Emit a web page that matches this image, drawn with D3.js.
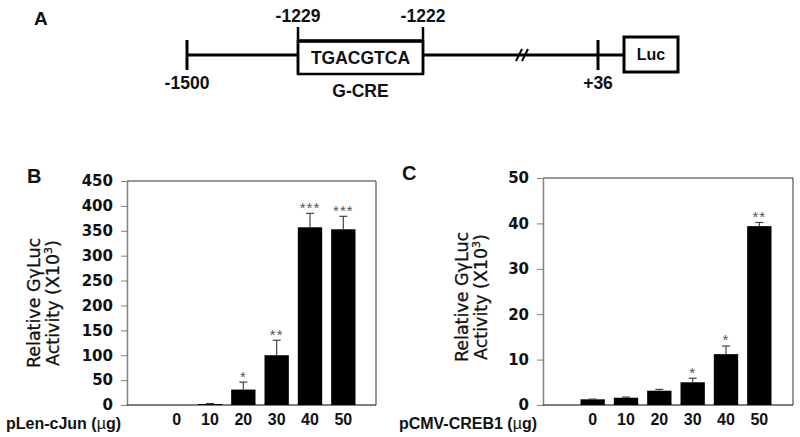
<!DOCTYPE html>
<html>
<head>
<meta charset="utf-8">
<script src="https://cdn.jsdelivr.net/npm/d3@7"></script>
<style>
  body { margin: 0; background: #fff; }
  svg { display: block; }
</style>
</head>
<body>
<div id="fig"></div>
<script>
// dose groups (ug of plasmid)
const doses = ["0", "10", "20", "30", "40", "50"];

// panel B: pLen-cJun
const cjunValues = [0, 2, 31, 100, 357, 353];
const cjunErrors = [0, 1, 15, 30, 28, 26];
const cjunStars = ["", "", "*", "**", "***", "***"];
const cjunTicks = [0, 50, 100, 150, 200, 250, 300, 350, 400, 450];

// panel C: pCMV-CREB1
const crebValues = [1.25, 1.6, 3.15, 5.0, 11.2, 39.4];
const crebErrors = [0.05, 0.15, 0.3, 0.9, 1.8, 0.8];
const crebStars = ["", "", "", "*", "*", "**"];
const crebTicks = [0, 10, 20, 30, 40, 50];

// panel A: promoter landmarks
const landmarks = ["-1500", "-1229", "-1222", "break", "+36", "Luc"];

const W = 800, H = 437;
const svg = d3.select("#fig").append("svg").attr("width", W).attr("height", H);

const boldSans = "'Liberation Sans', Arial, sans-serif";
const wideBold = "'DejaVu Sans', sans-serif";

// ---------- panel A (schematic, not to scale) ----------
const posA = d3.scaleOrdinal().domain(landmarks).range([187, 298, 423, 522, 598, 624]);
const lineY = 55;
const A = svg.append("g");

function labelA(x, y, txt, size) {
  return A.append("text").attr("x", x).attr("y", y).attr("text-anchor", "middle").text(txt)
    .attr("fill", "#111").attr("font-family", boldSans).attr("font-weight", "bold")
    .attr("font-size", size);
}

A.append("text").attr("x", 34).attr("y", 25).text("A").attr("fill", "#111")
  .attr("font-family", boldSans).attr("font-weight", "bold").attr("font-size", 19);

// main line
A.append("line").attr("x1", posA("-1500")).attr("x2", posA("Luc"))
  .attr("y1", lineY).attr("y2", lineY).attr("stroke", "#000").attr("stroke-width", 3);
// end ticks
["-1500", "+36"].forEach(k => {
  A.append("line").attr("x1", posA(k)).attr("x2", posA(k))
    .attr("y1", lineY - 15).attr("y2", lineY + 15).attr("stroke", "#000").attr("stroke-width", 3);
});
// G-CRE box
A.append("rect").attr("x", posA("-1229")).attr("y", 41)
  .attr("width", posA("-1222") - posA("-1229")).attr("height", 33)
  .attr("fill", "#fff").attr("stroke", "#000").attr("stroke-width", 2.5);
A.append("line").attr("x1", posA("-1229")).attr("x2", posA("-1222"))
  .attr("y1", 41).attr("y2", 41).attr("stroke", "#000").attr("stroke-width", 3.5);
["-1229", "-1222"].forEach(k => {
  A.append("line").attr("x1", posA(k)).attr("x2", posA(k))
    .attr("y1", 27).attr("y2", 74).attr("stroke", "#000").attr("stroke-width", 2.5);
  labelA(posA(k), 22, k, 17.5);
});
labelA((posA("-1229") + posA("-1222")) / 2, 64, "TGACGTCA", 17.5);
labelA((posA("-1229") + posA("-1222")) / 2, 97, "G-CRE", 17.5);
labelA(posA("-1500"), 89, "-1500", 17.5);
labelA(posA("+36"), 89, "+36", 17.5);
// break mark //
[-3, 3].forEach(o => {
  const bx = posA("break") + o;
  A.append("line").attr("x1", bx - 3).attr("x2", bx + 3)
    .attr("y1", lineY + 6).attr("y2", lineY - 6).attr("stroke", "#000").attr("stroke-width", 2);
});
// Luc box
A.append("rect").attr("x", posA("Luc")).attr("y", 37).attr("width", 54).attr("height", 35)
  .attr("fill", "#fff").attr("stroke", "#000").attr("stroke-width", 3);
labelA(posA("Luc") + 27, 60, "Luc", 16);

// ---------- bar panels ----------
function panel(cfg) {
  const g = svg.append("g").attr("transform", `translate(${cfg.left},${cfg.top})`);
  const innerW = cfg.width, innerH = cfg.height;

  const x = d3.scaleBand().domain(doses).range([33, 233]).paddingInner(0.27).paddingOuter(0.135);
  const y = d3.scaleLinear().domain([0, cfg.max]).range([innerH, 0]);

  // frame: top + right
  g.append("line").attr("x1", 0).attr("x2", innerW).attr("y1", 0).attr("y2", 0)
    .attr("stroke", "#333").attr("stroke-width", 1);
  g.append("line").attr("x1", innerW).attr("x2", innerW).attr("y1", 0).attr("y2", innerH)
    .attr("stroke", "#333").attr("stroke-width", 1);

  // y axis
  const ax = g.append("g").call(d3.axisLeft(y).tickValues(cfg.ticks).tickSize(6).tickSizeOuter(0).tickPadding(8));
  ax.select(".domain").attr("stroke", "#808080").attr("stroke-width", 1.5);
  ax.selectAll(".tick line").attr("stroke", "#808080");
  ax.selectAll(".tick text").attr("fill", "#111")
    .attr("font-family", wideBold).attr("font-weight", "bold").attr("font-size", 15);

  // bars
  const rows = doses.map((d, i) => ({ dose: d, v: cfg.values[i], e: cfg.errors[i], s: cfg.stars[i] }));
  g.selectAll(".bar").data(rows).join("rect").attr("class", "bar")
    .attr("x", d => x(d.dose)).attr("width", x.bandwidth())
    .attr("y", d => y(d.v)).attr("height", d => innerH - y(d.v))
    .attr("fill", "#000");

  // error bars (upper only)
  const eb = g.selectAll(".err").data(rows.filter(d => d.e > 0)).join("g").attr("class", "err")
    .attr("stroke", "#444").attr("stroke-width", 1.2);
  eb.append("line")
    .attr("x1", d => x(d.dose) + x.bandwidth() / 2).attr("x2", d => x(d.dose) + x.bandwidth() / 2)
    .attr("y1", d => y(d.v)).attr("y2", d => y(d.v + d.e));
  eb.append("line")
    .attr("x1", d => x(d.dose) + x.bandwidth() / 2 - 4).attr("x2", d => x(d.dose) + x.bandwidth() / 2 + 4)
    .attr("y1", d => y(d.v + d.e)).attr("y2", d => y(d.v + d.e));

  // significance stars
  g.selectAll(".sig").data(rows.filter(d => d.s)).join("text").attr("class", "sig")
    .attr("x", d => x(d.dose) + x.bandwidth() / 2).attr("y", d => y(d.v + d.e) - 0.5)
    .attr("text-anchor", "middle").attr("fill", "#555")
    .attr("font-family", boldSans).attr("font-size", 15).attr("letter-spacing", 1)
    .text(d => d.s);

  // baseline
  g.append("line").attr("x1", 0).attr("x2", innerW).attr("y1", innerH).attr("y2", innerH)
    .attr("stroke", "#000").attr("stroke-width", 1);

  // category labels
  g.selectAll(".cat").data(doses).join("text").attr("class", "cat")
    .attr("x", d => x(d) + x.bandwidth() / 2).attr("y", innerH + 20)
    .attr("text-anchor", "middle").attr("fill", "#111")
    .attr("font-family", boldSans).attr("font-weight", "bold").attr("font-size", 16)
    .text(d => d);

  // x label
  const xl = svg.append("text").attr("x", cfg.xLabelEnd).attr("y", cfg.top + innerH + 24)
    .attr("text-anchor", "end").attr("fill", "#111")
    .attr("font-family", boldSans).attr("font-weight", "bold").attr("font-size", 16);
  xl.append("tspan").text(cfg.xLabel + " (");
  xl.append("tspan").attr("font-weight", "normal").text("\u00b5");
  xl.append("tspan").text("g)");

  // y title (two lines)
  const yt = svg.append("text").attr("transform", `translate(${cfg.titleX},${cfg.titleY}) rotate(-90)`)
    .attr("text-anchor", "middle").attr("fill", "#111")
    .attr("font-family", wideBold).attr("font-size", 17.5)
    .attr("stroke", "#111").attr("stroke-width", 0.3);
  yt.append("tspan").attr("x", 0).attr("y", 0).text("Relative G\u03b3Luc");
  const l2 = yt.append("tspan").attr("x", 0).attr("y", 19);
  l2.append("tspan").text("Activity (X10");
  l2.append("tspan").attr("font-size", 11).attr("dy", -7).text("3");
  l2.append("tspan").attr("dy", 7).text(")");

  // panel letter
  svg.append("text").attr("x", cfg.letterX).attr("y", cfg.letterY).text(cfg.letter)
    .attr("fill", "#111")
    .attr("font-family", boldSans).attr("font-weight", "bold").attr("font-size", 20);
}

panel({
  letter: "B", letterX: 27, letterY: 183,
  left: 127, top: 181, width: 249, height: 224,
  max: 450, ticks: cjunTicks,
  values: cjunValues, errors: cjunErrors, stars: cjunStars,
  xLabel: "pLen-cJun", xLabelEnd: 121,
  titleX: 40, titleY: 303
});

panel({
  letter: "C", letterX: 402, letterY: 180,
  left: 543, top: 178, width: 250, height: 227,
  max: 50, ticks: crebTicks,
  values: crebValues, errors: crebErrors, stars: crebStars,
  xLabel: "pCMV-CREB1", xLabelEnd: 537,
  titleX: 468, titleY: 297
});
</script>
</body>
</html>
